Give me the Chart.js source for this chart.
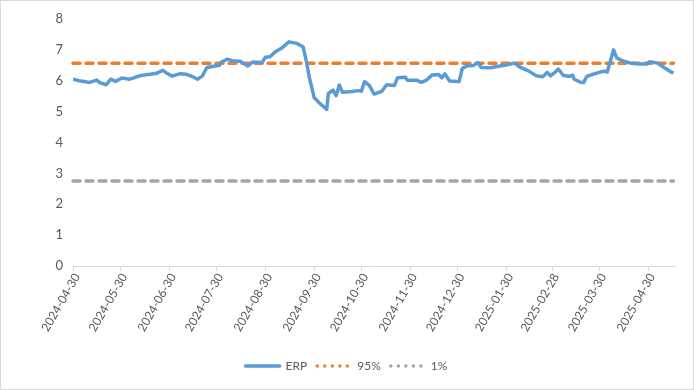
<!DOCTYPE html>
<html><head><meta charset="utf-8">
<script src="https://cdn.jsdelivr.net/npm/chart.js@4.4.1/dist/chart.umd.min.js"></script>
<style>html,body{margin:0;padding:0;background:#fff}#wrap{width:694px;height:390px;position:relative}</style>
</head><body><div id="wrap"><canvas id="c" width="694" height="390"></canvas></div>
<script>
const dates = ['2024-04-30','2024-05-04','2024-05-08','2024-05-10','2024-05-15','2024-05-17','2024-05-21','2024-05-24','2024-05-27','2024-05-31',
'2024-06-05','2024-06-09','2024-06-13','2024-06-18','2024-06-22','2024-06-26','2024-06-28','2024-07-02','2024-07-07','2024-07-11',
'2024-07-15','2024-07-18','2024-07-21','2024-07-24','2024-07-29','2024-08-01','2024-08-02','2024-08-06','2024-08-09','2024-08-14',
'2024-08-19','2024-08-22','2024-08-28','2024-08-30','2024-09-02','2024-09-05','2024-09-10','2024-09-14','2024-09-19','2024-09-23',
'2024-09-25','2024-09-27','2024-09-30','2024-10-04','2024-10-08','2024-10-09','2024-10-12','2024-10-14','2024-10-16','2024-10-18',
'2024-10-24','2024-10-28','2024-10-30','2024-11-01','2024-11-04','2024-11-07','2024-11-12','2024-11-15','2024-11-20','2024-11-22',
'2024-11-27','2024-11-28','2024-12-04','2024-12-07','2024-12-10','2024-12-14','2024-12-18','2024-12-20','2024-12-22','2024-12-25',
'2024-12-29','2024-12-31','2025-01-02','2025-01-05','2025-01-09','2025-01-12','2025-01-14','2025-01-20','2025-01-24','2025-01-29',
'2025-02-04','2025-02-08','2025-02-13','2025-02-18','2025-02-22','2025-02-25','2025-02-27','2025-03-02','2025-03-04','2025-03-07',
'2025-03-11','2025-03-13','2025-03-14','2025-03-18','2025-03-20','2025-03-22','2025-03-26','2025-03-31','2025-04-03','2025-04-04',
'2025-04-06','2025-04-08','2025-04-10','2025-04-14','2025-04-19','2025-04-25','2025-04-29','2025-05-01','2025-05-06','2025-05-10',
'2025-05-14','2025-05-16'];
const erp = [6.05,6.00,5.97,5.94,6.02,5.94,5.87,6.05,5.98,6.09,
6.05,6.12,6.18,6.21,6.24,6.34,6.26,6.15,6.23,6.21,
6.13,6.05,6.15,6.43,6.48,6.50,6.60,6.70,6.65,6.63,
6.48,6.61,6.59,6.76,6.78,6.92,7.08,7.26,7.21,7.10,
6.65,6.10,5.46,5.25,5.07,5.58,5.70,5.52,5.86,5.63,
5.65,5.68,5.66,5.97,5.85,5.57,5.66,5.87,5.85,6.10,
6.11,6.02,6.02,5.95,6.01,6.19,6.20,6.10,6.22,5.99,
5.98,5.97,6.40,6.48,6.49,6.59,6.43,6.42,6.46,6.50,
6.57,6.43,6.32,6.16,6.13,6.27,6.16,6.28,6.38,6.18,
6.14,6.18,6.05,5.95,5.94,6.14,6.21,6.29,6.31,6.28,
6.64,7.00,6.74,6.64,6.57,6.54,6.54,6.62,6.57,6.43,
6.30,6.24];
const p95 = 6.57;
const p1 = 2.75;
const tickLabels = ['2024-04-30','2024-05-30','2024-06-30','2024-07-30','2024-08-30','2024-09-30','2024-10-30','2024-11-30','2024-12-30','2025-01-30','2025-02-28','2025-03-30','2025-04-30'];
const axisEnd = '2025-05-17';
const yTicks = [0,1,2,3,4,5,6,7,8];

const base = Date.UTC(2024,3,30);
function dayOf(s){const p=s.split('-').map(Number);return (Date.UTC(p[0],p[1]-1,p[2])-base)/86400000;}
const xs = dates.map(dayOf);
const tickDays = tickLabels.map(dayOf);
const firstX = xs[0], lastX = xs[xs.length-1];

const FONT = 'Lato, "Open Sans", sans-serif';
const txt = '#595959';
const BLUE = '#5B9BD5', ORANGE = '#ED7D31', GRAY = '#A5A5A5';

const borderPlugin = {
  id:'outerBorder',
  afterLayout(chart){ if(chart.legend){ chart.legend.left += 9; chart.legend.right += 9; } },
  beforeDraw(chart){const c=chart.ctx;c.save();c.fillStyle='#fff';c.fillRect(0,0,chart.width,chart.height);c.strokeStyle='#d9d9d9';c.lineWidth=1;c.strokeRect(0.5,0.5,chart.width-1,chart.height-1);c.restore();}
};
const refClip = {left:3, top:3, right:0, bottom:3};

new Chart(document.getElementById('c'), {
  type:'scatter',
  data:{datasets:[
    {label:'ERP', data: xs.map((x,i)=>({x, y:erp[i]})), showLine:true, borderColor:BLUE, borderWidth:3.5, pointRadius:0, tension:0, borderJoinStyle:'round'},
    {label:'95%', data:[{x:firstX,y:p95},{x:lastX,y:p95}], showLine:true, clip:refClip, borderColor:ORANGE, borderWidth:3.5, borderDash:[7,6], borderCapStyle:'round', pointRadius:0},
    {label:'1%', data:[{x:firstX,y:p1},{x:lastX,y:p1}], showLine:true, clip:refClip, borderColor:GRAY, borderWidth:3.5, borderDash:[7,6], borderCapStyle:'round', pointRadius:0}
  ]},
  options:{
    responsive:false, animation:false, devicePixelRatio:1,
    layout:{padding:{left:0,right:19,top:19,bottom:8}},
    plugins:{
      tooltip:{enabled:false},
      legend:{position:'bottom', labels:{
        color:txt, font:{family:FONT,size:12}, usePointStyle:true, pointStyleWidth:34, boxHeight:12, padding:10,
        generateLabels(chart){
          return chart.data.datasets.map((d,i)=>({
            text:d.label, fillStyle:d.borderColor, strokeStyle:d.borderColor, fontColor:txt,
            lineWidth:3.5, lineDash: i===0?[]:[0.01,7.5], lineCap:'round',
            pointStyle:'line', datasetIndex:i, hidden:false
          }));
        }
      }}
    },
    scales:{
      x:{type:'linear', min:0, max:dayOf(axisEnd),
        afterBuildTicks(s){ s.ticks = tickDays.map(v=>({value:v})); },
        afterFit(s){ s.height = 84; },
        ticks:{autoSkip:false, maxRotation:60, minRotation:60, color:txt, font:{family:FONT,size:12}, padding:0, labelOffset:4,
          callback(v){ const i = tickDays.indexOf(v); return i>=0 ? tickLabels[i] : ''; }},
        grid:{display:true, drawOnChartArea:false, drawTicks:true, tickLength:5, color:'#d9d9d9'},
        border:{display:true, color:'#d9d9d9'}
      },
      y:{min:0, max:8,
        afterBuildTicks(s){ s.ticks = yTicks.map(v=>({value:v})); },
        afterFit(s){ s.width = 73; },
        ticks:{color:txt, font:{family:FONT,size:13}, padding:10},
        grid:{display:false, drawTicks:false}, border:{display:false}
      }
    }
  },
  plugins:[borderPlugin]
});
</script></body></html>
